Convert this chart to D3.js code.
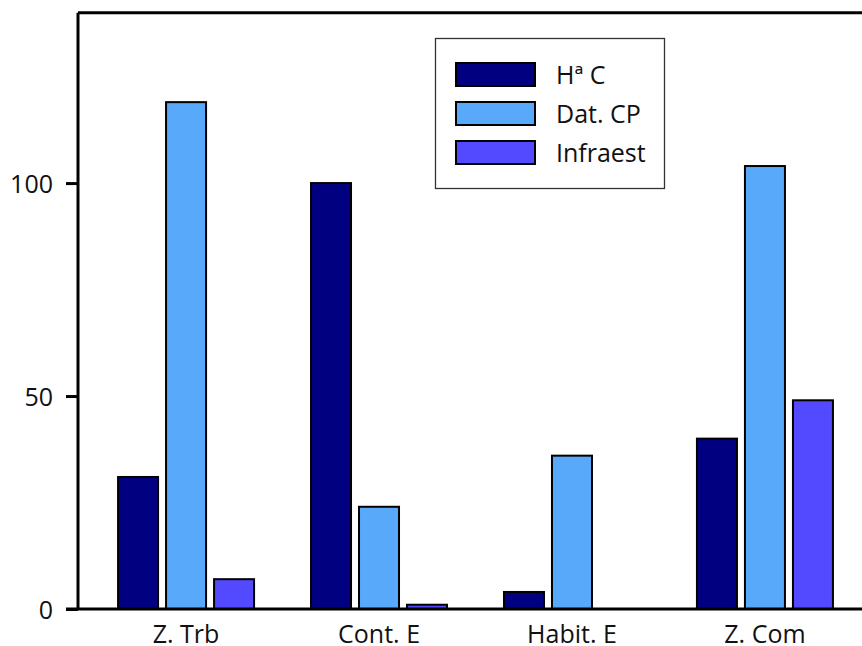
<!DOCTYPE html>
<html>
<head>
<meta charset="utf-8">
<script src="https://cdn.jsdelivr.net/npm/d3@7"></script>
<style>
  html, body { margin: 0; padding: 0; background: #fff; }
  svg { display: block; }
  text { font-family: "Open Sans", sans-serif; fill: #111; }
</style>
</head>
<body>
<svg id="chart" width="862" height="646"></svg>
<script>
const categories = ["Z. Trb", "Cont. E", "Habit. E", "Z. Com"];
const seriesNames = ["Hª C", "Dat. CP", "Infraest"];
const seriesColors = ["#000080", "#58A9F9", "#5349FF"];
const valuesHaC = [31, 100, 4, 40];
const valuesDatCP = [119, 24, 36, 104];
const valuesInfraest = [7, 1, 0, 49];
const yTicks = [0, 50, 100];

const seriesValues = [valuesHaC, valuesDatCP, valuesInfraest];
const data = categories.map((c, i) => ({
  category: c,
  values: seriesNames.map((s, j) => ({ series: s, value: seriesValues[j][i], color: seriesColors[j] }))
}));

const svg = d3.select("#chart");
const mLeft = 78, mTop = 12.7, mBottom = 609, mRight = 873;

const y = d3.scaleLinear().domain([0, 140]).range([mBottom, mTop]);
const x0 = d3.scaleBand().domain(categories).range([mLeft, mRight]).paddingInner(0).paddingOuter(0.06);
const groupInner = 144;
const x1 = d3.scaleBand().domain(seriesNames)
  .range([(x0.bandwidth() - groupInner) / 2, (x0.bandwidth() + groupInner) / 2])
  .paddingInner(1 / 6).paddingOuter(1 / 12);

// bars
const groups = svg.append("g").selectAll("g").data(data).join("g")
  .attr("transform", d => `translate(${x0(d.category)},0)`);
groups.selectAll("rect").data(d => d.values.filter(v => v.value > 0)).join("rect")
  .attr("x", d => x1(d.series))
  .attr("width", x1.bandwidth())
  .attr("y", d => y(d.value))
  .attr("height", d => y(0) - y(d.value))
  .attr("fill", d => d.color)
  .attr("stroke", "#000")
  .attr("stroke-width", 2);

// frame (top line + left axis)
svg.append("line").attr("x1", mLeft).attr("x2", 870).attr("y1", mTop).attr("y2", mTop)
  .attr("stroke", "#000").attr("stroke-width", 3);

const yAxis = d3.axisLeft(y).tickValues(yTicks).tickSize(12).tickPadding(13).tickFormat(d3.format("d"));
const gy = svg.append("g").attr("transform", `translate(${mLeft},0)`).call(yAxis);
gy.select(".domain").attr("stroke", "#000").attr("stroke-width", 3).attr("d", `M0,${mTop}V${mBottom}`);
gy.selectAll(".tick line").attr("stroke", "#000").attr("stroke-width", 3);
gy.selectAll(".tick text").style("font-family", "'Open Sans', sans-serif").style("font-size", "25px").attr("fill", "#111").attr("dy", "0.36em");

// x axis
const xAxis = d3.axisBottom(x0).tickSize(0).tickPadding(16);
const gx = svg.append("g").attr("transform", `translate(0,${mBottom})`).call(xAxis);
gx.select(".domain").attr("stroke", "#000").attr("stroke-width", 3).attr("d", `M${mLeft - 12},0H870`);
gx.selectAll(".tick text").style("font-family", "'Open Sans', sans-serif").style("font-size", "25px").attr("fill", "#111");

// legend
const lg = svg.append("g");
lg.append("rect").attr("x", 435.5).attr("y", 38.5).attr("width", 229).attr("height", 150)
  .attr("fill", "#fff").attr("stroke", "#333").attr("stroke-width", 1.3);
const items = lg.selectAll("g.item").data(seriesNames).join("g").attr("class", "item")
  .attr("transform", (d, i) => `translate(456,${63 + i * 39})`);
items.append("rect").attr("width", 79).attr("height", 23)
  .attr("fill", (d, i) => seriesColors[i]).attr("stroke", "#000").attr("stroke-width", 2);
items.append("text").attr("x", 100).attr("y", 11.5).attr("dy", "0.36em")
  .style("font-size", "25px").text(d => d);
</script>
</body>
</html>
